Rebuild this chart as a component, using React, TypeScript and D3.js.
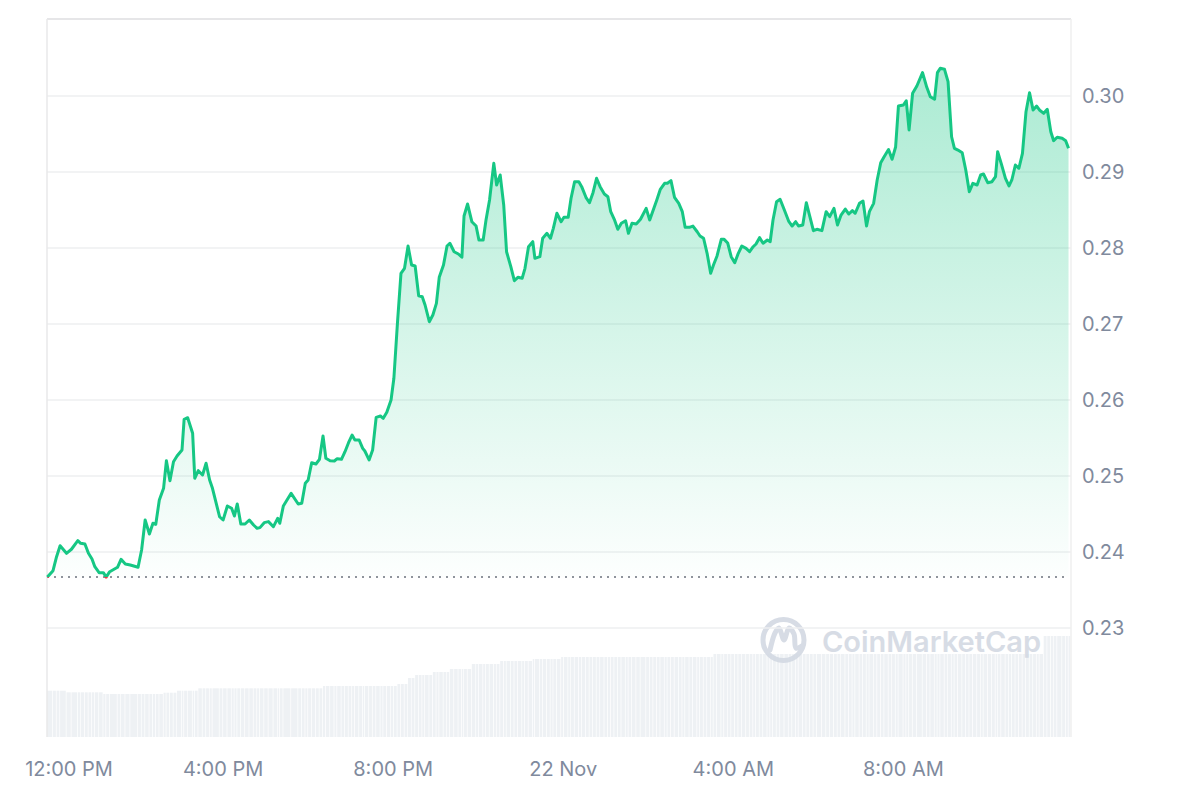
import React from "react";
import * as d3 from "d3";

// minutes after 12:00 PM, 21 Nov
const minutes = [-8,0,5,10,19,26,35,39,45,50,55,59,65,71,75,80,91,96,102,109,120,125,130,136,141,145,150,156,160,165,170,175,182,185,190,197,200,205,211,216,221,225,235,240,246,252,256,260,265,271,277,283,288,292,298,304,311,317,320,325,336,346,351,356,360,365,371,376,381,385,391,397,401,407,412,417,422,426,432,437,440,446,451,456,462,466,471,477,481,486,491,496,501,506,511,516,521,525,531,536,541,545,551,556,560,566,572,577,580,585,591,597,601,607,611,616,622,626,631,636,640,646,651,656,662,666,671,677,680,687,691,697,702,706,711,717,721,727,731,736,742,746,752,757,762,767,772,778,783,787,792,797,802,808,812,817,823,829,837,842,847,852,857,863,867,872,877,883,888,892,898,903,909,913,918,923,928,932,937,943,947,952,957,962,967,972,978,983,988,992,997,1002,1008,1012,1016,1021,1026,1032,1038,1043,1048,1052,1058,1063,1068,1073,1078,1085,1091,1096,1102,1107,1112,1118,1123,1128,1132,1138,1143,1148,1152,1158,1163,1168,1173,1179,1184,1189,1193,1200,1204,1208,1213,1219,1227,1233,1238,1244,1248,1252,1258,1263,1268,1272,1277,1283,1288,1293,1298,1304,1309,1313,1319,1325,1330,1333,1338,1344,1349,1353,1358,1363,1368,1373,1378,1383,1388,1392,1398,1403,1408,1412,1417,1424,1429,1433];

const prices = [0.2367,0.23754,0.23938,0.24083,0.23983,0.24036,0.24149,0.24114,0.24105,0.23983,0.23908,0.23807,0.23728,0.23728,0.2367,0.23741,0.23799,0.23904,0.23842,0.23829,0.23799,0.24026,0.24421,0.24237,0.24378,0.24364,0.24684,0.24838,0.25201,0.24938,0.25188,0.25263,0.25342,0.25746,0.25767,0.25562,0.2497,0.2507,0.25013,0.25167,0.24947,0.24838,0.24464,0.24421,0.24605,0.24575,0.24474,0.24632,0.24368,0.24368,0.24421,0.24355,0.24312,0.24321,0.24386,0.244,0.24333,0.24443,0.24378,0.24605,0.24772,0.24632,0.24641,0.24904,0.24947,0.25175,0.25158,0.2522,0.25526,0.25233,0.25201,0.25197,0.25228,0.2522,0.2532,0.25438,0.25539,0.25474,0.25474,0.25364,0.25329,0.25211,0.25342,0.25772,0.25789,0.25759,0.25838,0.26,0.26286,0.27009,0.27667,0.27733,0.28026,0.27776,0.27763,0.27372,0.27359,0.2725,0.2703,0.27118,0.27272,0.27614,0.27776,0.28026,0.28062,0.27951,0.27921,0.27878,0.28421,0.28579,0.28346,0.28289,0.28105,0.28105,0.28368,0.28632,0.29114,0.28829,0.28961,0.28566,0.27951,0.27754,0.2757,0.27614,0.27601,0.27733,0.28017,0.28083,0.27864,0.27886,0.28128,0.28193,0.28128,0.28259,0.28457,0.28346,0.28404,0.28404,0.28654,0.28872,0.28872,0.28807,0.28667,0.28596,0.28728,0.28917,0.28807,0.28711,0.28675,0.28478,0.28378,0.28246,0.28325,0.28359,0.28193,0.28325,0.28316,0.28378,0.28522,0.28368,0.285,0.28632,0.28772,0.28851,0.28851,0.28886,0.28667,0.28588,0.28478,0.28272,0.28272,0.28289,0.28214,0.28158,0.28128,0.2793,0.27667,0.27776,0.27895,0.28114,0.28114,0.28066,0.27886,0.27807,0.2793,0.28026,0.27996,0.27951,0.28017,0.28053,0.28136,0.28062,0.28105,0.28083,0.28368,0.28609,0.28641,0.285,0.28355,0.28289,0.28346,0.28289,0.28303,0.28596,0.28412,0.28228,0.28246,0.28228,0.28478,0.28412,0.28522,0.28303,0.28434,0.28513,0.28447,0.28491,0.28457,0.28588,0.28618,0.28289,0.28478,0.28588,0.28895,0.29122,0.29204,0.29296,0.29167,0.29329,0.29868,0.29882,0.29938,0.29553,0.30036,0.30132,0.30307,0.30114,0.29991,0.29957,0.30307,0.30364,0.30351,0.30188,0.29464,0.29312,0.29289,0.29254,0.29026,0.28741,0.28851,0.28829,0.28961,0.28974,0.28859,0.28872,0.28938,0.29267,0.29114,0.28917,0.28816,0.28895,0.29092,0.29049,0.29246,0.29793,0.30043,0.29816,0.29868,0.29816,0.29772,0.29825,0.2953,0.29412,0.29457,0.29443,0.29412,0.29312];

// volume (millions) aligned with the price points
const volumes = [
4.63,4.63,4.63,4.63,
4.47,4.47,4.47,4.47,4.47,4.47,4.47,4.47,4.47,
4.3,4.3,4.3,4.3,4.3,4.3,4.3,4.3,4.3,4.3,4.3,4.3,4.3,4.3,
4.43,4.43,4.43,4.43,
4.63,4.63,4.63,4.63,4.63,4.63,
4.87,4.87,4.87,4.87,4.87,4.87,4.87,4.87,4.87,4.87,4.87,4.87,4.87,4.87,4.87,4.87,4.87,4.87,4.87,4.87,4.87,4.87,4.87,4.87,4.87,4.87,4.87,4.87,4.87,4.87,4.87,
5.1,5.1,5.1,5.1,5.1,5.1,5.1,5.1,5.1,5.1,5.1,5.1,5.1,5.1,5.1,5.1,5.1,5.1,5.1,5.1,5.1,
5.3,5.3,5.3,
5.9,5.9,
6.2,6.2,6.2,6.2,6.2,
6.5,6.5,6.5,6.5,6.5,
6.8,6.8,6.8,6.8,6.8,6.8,
7.3,7.3,7.3,7.3,7.3,7.3,7.3,7.3,
7.6,7.6,7.6,7.6,7.6,7.6,7.6,7.6,7.6,
7.8,7.8,7.8,7.8,7.8,7.8,7.8,7.8,
8.0,8.0,8.0,8.0,8.0,8.0,8.0,8.0,8.0,8.0,8.0,8.0,8.0,8.0,8.0,8.0,8.0,8.0,8.0,8.0,8.0,8.0,8.0,8.0,8.0,8.0,8.0,8.0,8.0,8.0,8.0,8.0,8.0,8.0,8.0,8.0,8.0,8.0,8.0,8.0,8.0,8.0,
8.3,8.3,8.3,8.3,8.3,8.3,8.3,8.3,8.3,8.3,8.3,8.3,8.3,8.3,8.3,8.3,8.3,8.3,8.3,8.3,8.3,8.3,8.3,8.3,8.3,8.3,8.3,8.3,8.3,8.3,
8.3,8.3,8.3,8.3,8.3,8.3,8.3,8.3,8.3,8.3,8.3,8.3,8.3,8.3,8.3,8.3,8.3,8.3,8.3,8.3,8.3,8.3,8.3,8.3,8.3,8.3,8.3,8.3,8.3,8.3,
8.3,8.3,8.3,8.3,8.3,8.3,8.3,8.3,8.3,8.3,8.3,8.3,8.3,8.3,8.3,8.3,8.3,8.3,8.3,8.3,8.3,8.3,8.3,8.3,8.3,8.3,8.3,8.3,8.3,8.3,8.3,
10.1,10.1,10.1,10.1,10.1,10.1,10.1,10.1
];

const refPrice = 0.23672;
const yTicks = [0.23, 0.24, 0.25, 0.26, 0.27, 0.28, 0.29, 0.3];
const xTickMinutes = [0, 240, 480, 720, 960, 1200];
const xTickLabels = ["12:00 PM", "4:00 PM", "8:00 PM", "22 Nov", "4:00 AM", "8:00 AM"];
const domainMinutes = [-8.5, 1436.5];

const W = 1200, H = 800;
const L = 47, R = 1071, T = 19, B = 737;
const GREEN = "#16c784";
const RED = "#ea3943";
const GREY = "#808a9d";

export default function App() {
  const x = d3.scaleLinear().domain(domainMinutes).range([L, R]);
  const y = d3.scaleLinear().domain([0.23, 0.3]).range([628, 96]);
  const yv = d3.scaleLinear().domain([0, 10.1]).range([B, 636]);
  const pts = minutes.map((m, i) => ({ m, p: prices[i], v: volumes[i] }));
  const yRef = y(refPrice);

  const line = d3.line<any>().x((d) => x(d.m)).y((d) => y(d.p)).curve(d3.curveLinear);
  const area = d3.area<any>().x((d) => x(d.m)).y0(yRef).y1((d) => y(d.p)).curve(d3.curveLinear);

  const bars = pts.map((d, i) => {
    const x0 = i === 0 ? L : x(d.m);
    const x1 = i < pts.length - 1 ? x(pts[i + 1].m) : R;
    return { x0, x1, v: d.v };
  });

  const font = "Inter, 'Noto Sans', sans-serif";
  const logoM = d3.line<[number, number]>().curve(d3.curveCatmullRom)([
    [770, 650], [775, 633], [779, 628], [784, 640], [789, 628], [794, 634], [796, 648], [802, 646],
  ]);

  return (
    <svg width={W} height={H} style={{ position: "absolute", left: 0, top: 0, background: "#fff" }} fontFamily={font}>
      <defs>
        <linearGradient id="areaGrad" gradientUnits="userSpaceOnUse" x1="0" y1="40" x2="0" y2="590">
          <stop offset="0" stopColor={GREEN} stopOpacity={0.38} />
          <stop offset="1" stopColor={GREEN} stopOpacity={0} />
        </linearGradient>
        <clipPath id="above"><rect x={0} y={0} width={W} height={yRef} /></clipPath>
        <clipPath id="below"><rect x={0} y={yRef} width={W} height={H - yRef} /></clipPath>
      </defs>

      {/* volume bars */}
      <g>
        {bars.map((b, i) => (
          <rect key={i} x={b.x0} y={yv(b.v)} width={Math.max(0.5, b.x1 - b.x0 - 0.7)} height={B - yv(b.v)} fill="#eef1f4" />
        ))}
      </g>

      {/* watermark */}
      <g opacity={0.9}>
        <circle cx={783.5} cy={640} r={20.5} fill="none" stroke="#d3d9e3" strokeWidth={5} />
        <path d={logoM || ""} fill="none" stroke="#d3d9e3" strokeWidth={5} strokeLinecap="round" strokeLinejoin="round" />
        <text x={822} y={652} fontSize={29} fontWeight={600} fill="#d3d9e3">CoinMarketCap</text>
      </g>

      {/* grid */}
      {yTicks.map((t) => (
        <line key={t} x1={L} x2={R} y1={y(t)} y2={y(t)} stroke="#eeeff1" strokeWidth={1.5} />
      ))}

      {/* frame */}
      <line x1={L} x2={R} y1={T} y2={T} stroke="#e6e6e8" strokeWidth={2} />
      <line x1={L} x2={L} y1={T} y2={B} stroke="#e8e8ea" strokeWidth={1.5} />
      <line x1={R} x2={R} y1={T} y2={B} stroke="#efefef" strokeWidth={1.5} />

      {/* area + line */}
      <path d={area(pts) || ""} fill="url(#areaGrad)" clipPath="url(#above)" />
      <line x1={L} x2={1066} y1={yRef} y2={yRef} stroke="#8f949c" strokeWidth={2} strokeDasharray="2 5" />
      <path d={line(pts) || ""} fill="none" stroke={GREEN} strokeWidth={3} strokeLinejoin="round" clipPath="url(#above)" />
      <path d={line(pts) || ""} fill="none" stroke={RED} strokeWidth={3} strokeLinejoin="round" clipPath="url(#below)" />

      {/* y axis labels */}
      {yTicks.map((t) => (
        <text key={t} x={1082} y={y(t) + 7} fontSize={20} fill={GREY}>{t.toFixed(2)}</text>
      ))}

      {/* x axis labels */}
      {xTickMinutes.map((m, i) => (
        <text key={m} x={i === 0 ? x(m) + 16 : x(m)} y={776} fontSize={20} fill={GREY} textAnchor="middle">{xTickLabels[i]}</text>
      ))}
    </svg>
  );
}
